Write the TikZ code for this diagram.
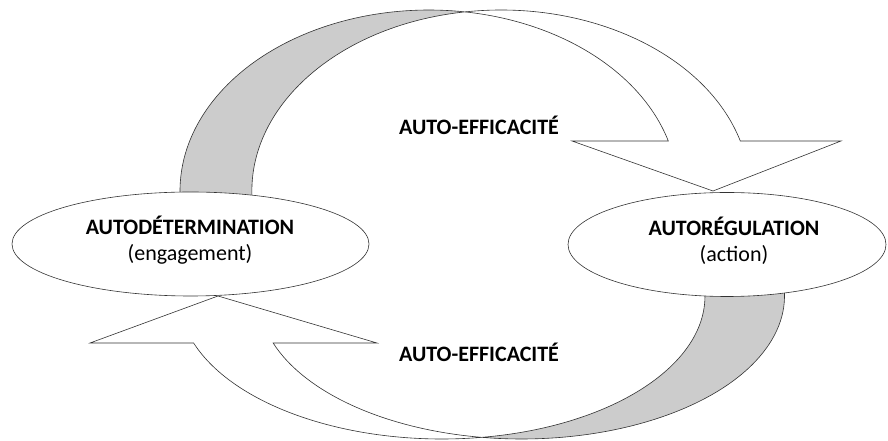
\documentclass[tikz,border=0pt]{standalone}
\usepackage{fontspec}
\setmainfont{Carlito}
\usetikzlibrary{shapes.geometric,calc}

\tikzset{
  pole/.style={ellipse, draw=black!80, line width=0.6pt, fill=white, inner sep=0pt},
  poletext/.style={align=center, inner sep=0pt, font=\fontsize{22}{26}\selectfont},
  backband/.style={draw=black!80, line width=0.6pt, fill=black!20},
  frontband/.style={draw=black!80, line width=0.6pt, fill=white},
  efftag/.style={font=\fontsize{22}{26}\selectfont\bfseries}
}

\begin{document}
\begin{tikzpicture}[x=1pt,y=1pt]
    \useasboundingbox (0,0) rectangle (888,441);
    \coordinate (topL) at (429,250);
    \coordinate (topR) at (501,250);
    \coordinate (botL) at (442,145);
    \coordinate (botR) at (521.5,145);

    \path[backband] ($(topL)+(185:249pt and 181pt)$)
        arc[start angle=185, end angle=81.7, x radius=249pt, y radius=181pt]
        arc[start angle=98.3, end angle=185, x radius=249pt, y radius=181pt] -- cycle;
    \path[frontband] ($(topR)+(98.3:249pt and 181pt)$)
        arc[start angle=98.3, end angle=16.04, x radius=249pt, y radius=181pt]
        -- (841,300) -- (713,250) -- (572,300)
        -- ($(topL)+(16.04:249pt and 181pt)$)
        arc[start angle=16.04, end angle=81.7, x radius=249pt, y radius=181pt] -- cycle;

    \path[backband] ($(botR)+(5:263pt and 143pt)$)
        arc[start angle=5, end angle=-98.7, x radius=263pt, y radius=143pt]
        arc[start angle=-81.3, end angle=5, x radius=263pt, y radius=143pt] -- cycle;
    \path[frontband] ($(botL)+(-81.3:263pt and 143pt)$)
        arc[start angle=-81.3, end angle=-160.81, x radius=263pt, y radius=143pt]
        -- (90,98) -- (218,145) -- (377,98)
        -- ($(botR)+(-160.81:263pt and 143pt)$)
        arc[start angle=-160.81, end angle=-98.7, x radius=263pt, y radius=143pt] -- cycle;

    \node[pole, minimum width=357pt, minimum height=104pt] (autodet) at (190.5,197) {};
    \node[poletext] (autodettxt) at (190,200.5) {\textbf{AUTODÉTERMINATION}\\(engagement)};
    \node[pole, minimum width=318pt, minimum height=104pt] (autoreg) at (727,196.5) {};
    \node[poletext] (autoregtxt) at (734,200.5) {\textbf{AUTORÉGULATION}\\(action)};
    \node[efftag] (effhaut) at (479,316) {AUTO-EFFICACITÉ};
    \node[efftag] (effbas) at (479,89) {AUTO-EFFICACITÉ};
\end{tikzpicture}
\end{document}
